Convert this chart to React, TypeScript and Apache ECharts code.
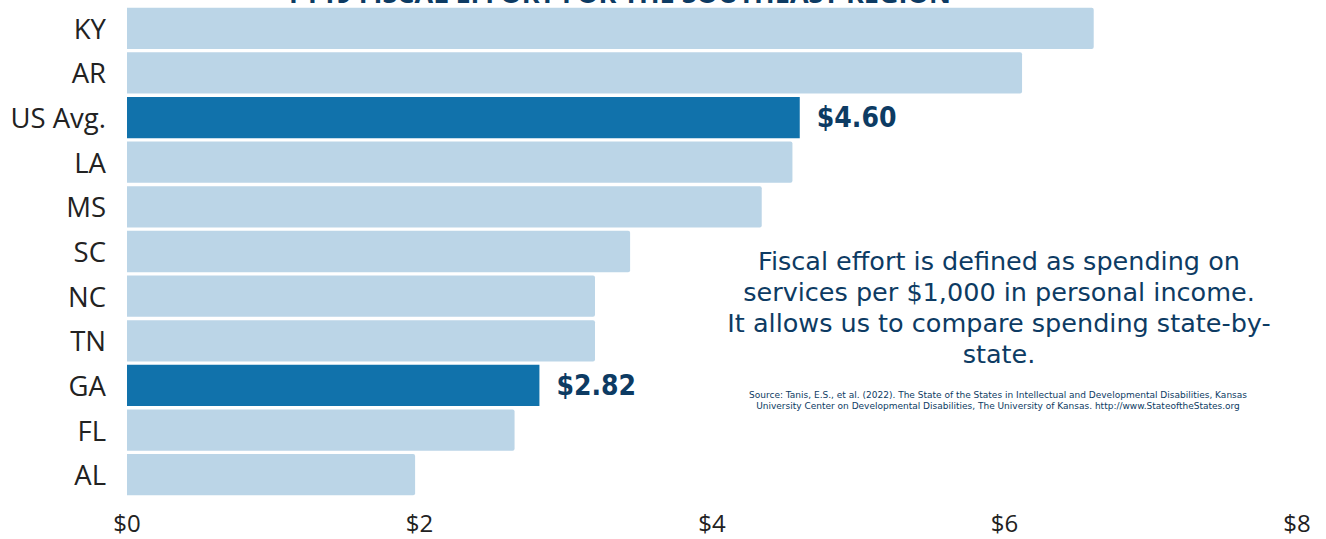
import React, { useEffect, useRef } from "react";
import * as echarts from "echarts";

const categories = ["KY", "AR", "US Avg.", "LA", "MS", "SC", "NC", "TN", "GA", "FL", "AL"];
const values = [6.61, 6.12, 4.6, 4.55, 4.34, 3.44, 3.2, 3.2, 2.82, 2.65, 1.97];
const highlighted = ["US Avg.", "GA"];
const xTicks = [0, 2, 4, 6, 8];

const titleText = "FY19 FISCAL EFFORT FOR THE SOUTHEAST REGION";
const noteLines = [
  "Fiscal effort is defined as spending on",
  "services per $1,000 in personal income.",
  "It allows us to compare spending state-by-",
  "state.",
];
const sourceLines = [
  "Source: Tanis, E.S., et al. (2022). The State of the States in Intellectual and Developmental Disabilities, Kansas",
  "University Center on Developmental Disabilities, The University of Kansas. http://www.StateoftheStates.org",
];

const LIGHT = "#bbd5e7";
const DARK = "#1172ab";
const NAVY = "#0d3b63";

export default function App() {
  const ref = useRef<HTMLDivElement>(null);
  useEffect(() => {
    document.body.style.margin = "0";
    const chart = echarts.init(ref.current!, undefined, { renderer: "svg" });
    const data = categories.map((c, i) => {
      const hi = highlighted.includes(c);
      return {
        value: values[i],
        itemStyle: { color: hi ? DARK : LIGHT, borderRadius: hi ? 0 : [0, 2, 2, 0] },
        label: hi
          ? {
              show: true,
              position: "right",
              distance: 17,
              formatter: (p: any) => "$" + Number(p.value).toFixed(2),
              fontFamily: "DejaVu Sans Condensed",
              fontWeight: "bold",
              fontSize: 28,
              color: NAVY,
            }
          : { show: false },
      };
    });
    chart.setOption({
      animation: false,
      grid: { left: 127, right: 29, top: 6, bottom: 42, containLabel: false },
      xAxis: {
        type: "value",
        min: 0,
        max: 8,
        interval: 2,
        axisLine: { show: false },
        axisTick: { show: false },
        splitLine: { show: false },
        axisLabel: {
          formatter: (v: number) => (xTicks.includes(v) ? "$" + v : ""),
          fontFamily: "Open Sans",
          fontSize: 24,
          color: "#222",
          margin: 13,
        },
      },
      yAxis: {
        type: "category",
        data: categories,
        inverse: true,
        axisLine: { show: false },
        axisTick: { show: false },
        axisLabel: {
          fontFamily: "Open Sans",
          fontSize: 27.5,
          color: "#222",
          margin: 21,
        },
      },
      series: [
        {
          type: "bar",
          data,
          barCategoryGap: "7.5%",
        },
      ],
      graphic: [
        {
          type: "text",
          x: 620,
          y: -21,
          style: {
            text: titleText,
            fontFamily: "Open Sans",
            fontWeight: "bold",
            fontSize: 27,
            fill: NAVY,
            align: "center",
            verticalAlign: "top",
          },
          z: 0,
        },
        {
          type: "text",
          x: 999,
          y: 245,
          style: {
            text: noteLines.join("\n"),
            fontFamily: "DejaVu Sans",
            fontSize: 25.5,
            lineHeight: 31,
            fill: NAVY,
            align: "center",
            verticalAlign: "top",
          },
        },
        {
          type: "text",
          x: 998,
          y: 389,
          style: {
            text: sourceLines.join("\n"),
            fontFamily: "DejaVu Sans",
            fontSize: 9,
            lineHeight: 11,
            fill: NAVY,
            align: "center",
            verticalAlign: "top",
          },
        },
      ],
    });
    return () => chart.dispose();
  }, []);
  return <div ref={ref} style={{ width: 1326, height: 539 }} />;
}
